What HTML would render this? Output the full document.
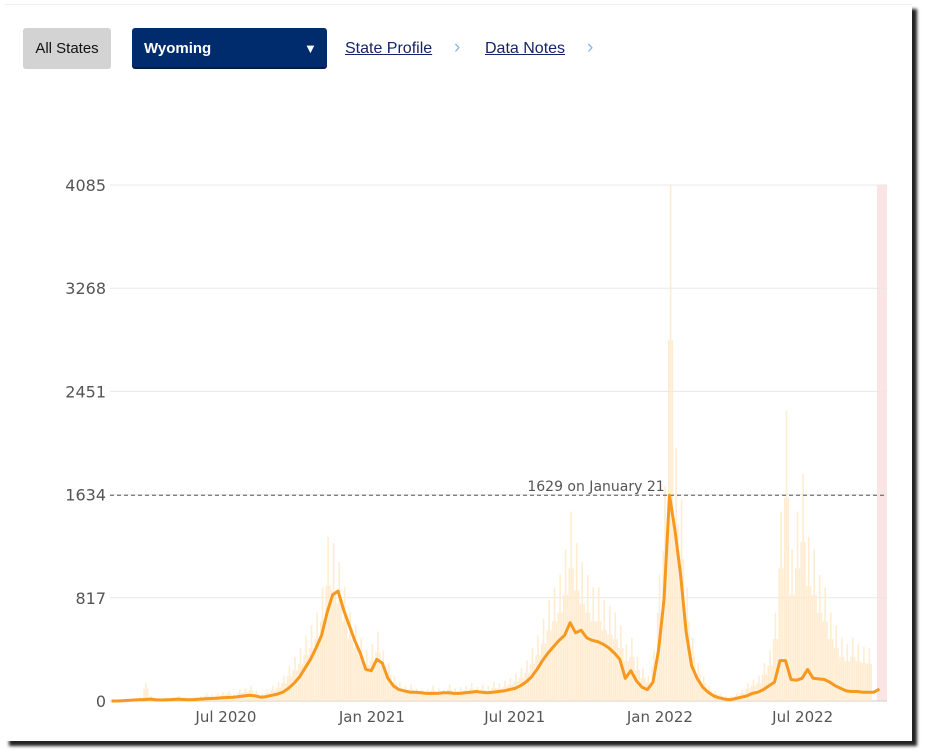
<!DOCTYPE html>
<html><head><meta charset="utf-8"><style>
body{margin:0;width:925px;height:753px;background:#fff;font-family:"Liberation Sans",sans-serif;overflow:hidden;position:relative}
#panel{position:absolute;left:4px;top:4px;width:908px;height:736px;background:#fff;border-top:1px solid #eee;box-shadow:5px 5px 3px #222}
.btn{position:absolute;top:28px;height:41px;border-radius:3px;font-size:15px;line-height:41px}
#all{left:23px;width:88px;background:#d3d3d3;color:#111;text-align:center}
#dd{left:132px;width:195px;background:#002c6e;color:#fff;font-weight:bold;border-bottom:2px solid #0b1b3a;box-sizing:border-box}
#dd span{position:absolute;left:12px}
#dd i{position:absolute;left:172px;font-style:normal;font-size:13px}
.lnk{position:absolute;top:40px;font-size:16px;color:#14236a;text-decoration:underline}
.chev{position:absolute;top:37px;font-size:19px;color:#8ab8e8}
</style></head><body>
<div id="panel"></div>
<div class="btn" id="all">All States</div>
<div class="btn" id="dd"><span>Wyoming</span><i>▼</i></div>
<a class="lnk" style="left:345px">State Profile</a>
<span class="chev" style="left:454px">›</span>
<a class="lnk" style="left:485px">Data Notes</a>
<span class="chev" style="left:587px">›</span>
<svg id="chart" width="925" height="753" style="position:absolute;left:0;top:0"></svg>
<script>
const yTicks=[0,817,1634,2451,3268,4085];
const xTickLabels=["Jul 2020","Jan 2021","Jul 2021","Jan 2022","Jul 2022"];
const xTickDays=[141,326,507,691,872];
const startDate="2020-02-10";
const lineValues=[0,0,2,5,8,10,12,15,10,8,10,12,15,12,10,12,15,18,20,22,
25,28,30,35,40,45,40,30,35,45,55,70,100,140,190,260,330,420,520,700,840,870,720,600,480,380,250,
240,330,300,180,120,90,80,70,70,65,60,60,60,65,65,60,60,65,70,75,70,65,70,75,80,
90,100,120,150,190,250,320,380,430,480,520,620,540,560,500,480,470,450,420,380,330,180,240,160,110,90,150,400,800,1629,1350,1000,550,280,180,110,70,40,25,15,10,20,30,40,60,70,90,120,150,320,320,170,165,180,250,180,175,170,150,120,100,80,75,75,70,70,70,95];
const barValues=[0,0,5,10,20,30,140,40,20,15,20,30,40,30,20,30,40,60,50,60,
70,80,60,90,100,120,80,60,90,120,150,200,280,350,420,520,600,700,900,1300,1250,1100,900,700,600,500,400,
450,550,400,300,200,150,120,130,100,90,90,120,100,90,130,100,110,120,140,110,130,120,150,140,160,
180,220,260,320,420,520,650,800,900,1000,1200,1500,1250,1100,1000,900,900,800,750,700,600,450,500,350,260,200,400,1000,1700,4085,2000,1600,900,500,300,200,120,80,60,40,40,60,90,140,170,200,300,400,700,1500,2300,1200,1500,1800,1300,1200,1000,900,700,600,500,450,500,450,430,420];
const NS="http://www.w3.org/2000/svg";
const svg=document.getElementById('chart');
const X0=111.7,PX=0.789,Y0=701,YT=185,YMAX=4085,XR=887;
const xDay=d=>X0+d*PX;
const y=v=>Y0-(v/YMAX)*(Y0-YT);
function mk(t,a){const e=document.createElementNS(NS,t);for(const k in a)e.setAttribute(k,a[k]);svg.appendChild(e);return e;}
let band=mk('rect',{x:877,y:YT,width:XR-877,height:Y0-YT,fill:'#fbe4e4'});


yTicks.forEach(v=>{
 const g=mk('line',{x1:110,x2:XR,y1:y(v),y2:y(v),stroke:v===0?'#ccc':'#e8e8e8','stroke-width':1});
 
 
 const t=mk('text',{x:106,y:y(v)+6,'text-anchor':'end','font-size':16,fill:'#555','font-family':'DejaVu Sans'});
 t.textContent=v;
 
 
});
xTickLabels.forEach((l,i)=>{
 const t=mk('text',{x:xDay(xTickDays[i])+3,y:722,'text-anchor':'middle','font-size':15,fill:'#555','font-family':'DejaVu Sans'});
 t.textContent=l;
 
 
});
barValues.forEach((v,i)=>{
 for(let k=0;k<3;k++){
  const vv=v*(k===1?1:0.7);
  const b=mk('rect',{x:xDay(i*7+k*2.3-2),y:y(vv),width:1.6,height:Y0-y(vv),fill:'#ffe7c6',opacity:0.8});
  
  
 }
});
const maxV=Math.max(...lineValues);
const dl=mk('line',{x1:110,x2:XR,y1:y(maxV),y2:y(maxV),stroke:'#555','stroke-dasharray':'4,3','stroke-width':1});


const pt=mk('text',{x:596,y:y(maxV)-4,'text-anchor':'middle','font-size':14,fill:'#555','font-family':'DejaVu Sans'});
pt.textContent=maxV+" on January 21";


const d=lineValues.map((v,i)=>(i?'L':'M')+xDay(i*7).toFixed(1)+','+y(v).toFixed(1)).join('');
const ln=mk('path',{d:d,fill:'none',stroke:'#f7981f','stroke-width':3,'stroke-linejoin':'round'});


</script>
</body></html>
